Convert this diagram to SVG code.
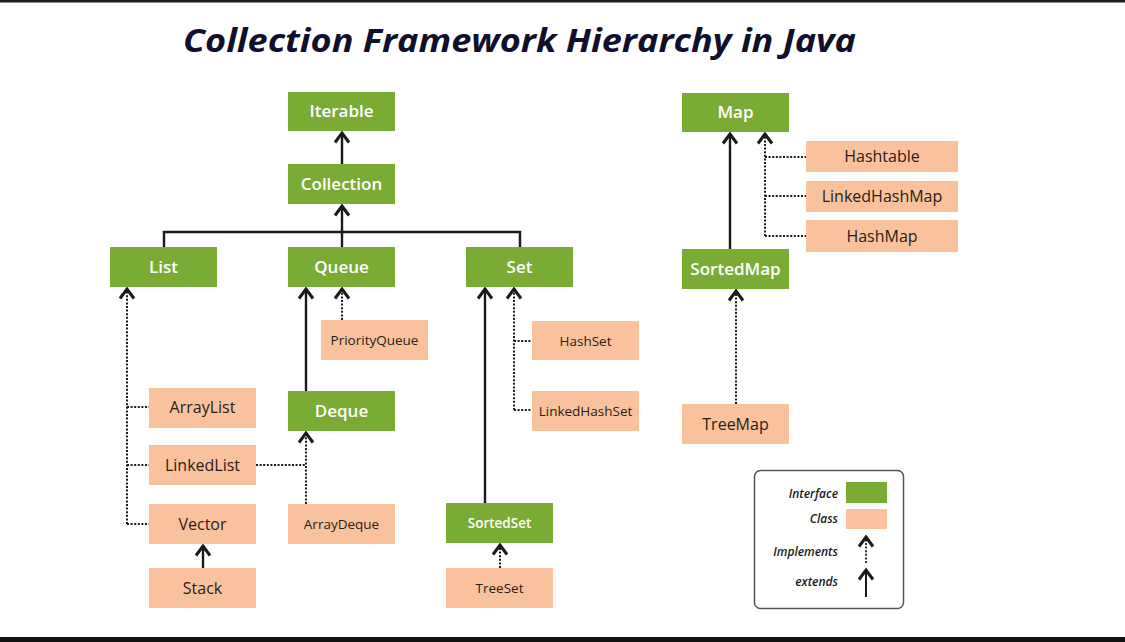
<svg xmlns="http://www.w3.org/2000/svg" width="1125" height="642" viewBox="0 0 1125 642">
<defs>
<marker id="arr" markerUnits="userSpaceOnUse" markerWidth="22" markerHeight="22" viewBox="-11 -11 22 22" refX="0" refY="0" orient="auto">
<path d="M-9.5,-7 L0,0 L-9.5,7" fill="none" stroke="#1a1a1a" stroke-width="3" stroke-linejoin="miter"/>
</marker>
</defs>
<style>
.i{fill:#7aab35}
.c{fill:#f9c29d}
.ti{font-family:"Open Sans","Liberation Sans",sans-serif;font-weight:600;font-size:17px;fill:#ffffff;text-anchor:middle}
.tc{font-family:"Open Sans","Liberation Sans",sans-serif;font-weight:500;font-size:16px;fill:#2a1c16;text-anchor:middle}
.sm{font-size:13.5px}
.s{stroke:#1a1a1a;stroke-width:2.4;fill:none}
.d{stroke:#1a1a1a;stroke-width:2;fill:none;stroke-dasharray:2 1.6}
.lg{font-family:"Open Sans","Liberation Sans",sans-serif;font-style:italic;font-weight:600;font-size:12px;fill:#1a1a1a;text-anchor:end}
</style>
<rect width="1125" height="642" fill="#ffffff"/>
<rect x="0" y="0" width="1125" height="2.5" fill="#1a1a1a"/>
<rect x="0" y="637" width="1125" height="5" fill="#111111"/>
<text x="183" y="52" font-family="'Open Sans','Liberation Sans',sans-serif" font-weight="700" font-style="italic" font-size="33" fill="#10102c" textLength="673" lengthAdjust="spacingAndGlyphs">Collection Framework Hierarchy in Java</text>

<g id="connectors">
<path class="s" d="M342,164 V133" marker-end="url(#arr)"/>
<path class="s" d="M342,247 V206" marker-end="url(#arr)"/>
<path class="s" d="M164,247 V232 H520 V247"/>
<path class="d" d="M127,524 V289" marker-end="url(#arr)"/>
<path class="d" d="M127,407 H149 M127,465 H149 M127,524 H149"/>
<path class="s" d="M203,568 V546" marker-end="url(#arr)"/>
<path class="s" d="M306,391 V289" marker-end="url(#arr)"/>
<path class="d" d="M342,320 V289" marker-end="url(#arr)"/>
<path class="d" d="M306,504 V433" marker-end="url(#arr)"/>
<path class="d" d="M256,465 H306"/>
<path class="s" d="M485,503 V289" marker-end="url(#arr)"/>
<path class="d" d="M514,410 V289" marker-end="url(#arr)"/>
<path class="d" d="M514,341 H532 M514,410 H532"/>
<path class="d" d="M500,568 V545" marker-end="url(#arr)"/>
<path class="s" d="M730,249 V134" marker-end="url(#arr)"/>
<path class="d" d="M765,236 V134" marker-end="url(#arr)"/>
<path class="d" d="M765,157 H806 M765,196 H806 M765,236 H806"/>
<path class="d" d="M736,404 V291" marker-end="url(#arr)"/>
</g>

<g id="Iterable"><rect class="i" x="288" y="92" width="107" height="39"/><text class="ti" x="341.5" y="117">Iterable</text></g>
<g id="Collection"><rect class="i" x="288" y="164" width="107" height="40"/><text class="ti" x="341.5" y="190">Collection</text></g>
<g id="List"><rect class="i" x="110" y="247" width="107" height="40"/><text class="ti" x="163.5" y="273">List</text></g>
<g id="Queue"><rect class="i" x="288" y="247" width="107" height="40"/><text class="ti" x="341.5" y="273">Queue</text></g>
<g id="Set"><rect class="i" x="466" y="247" width="107" height="40"/><text class="ti" x="519.5" y="273">Set</text></g>
<g id="PriorityQueue"><rect class="c" x="321" y="320" width="107" height="40"/><text class="tc sm" x="374.5" y="345">PriorityQueue</text></g>
<g id="Deque"><rect class="i" x="288" y="391" width="107" height="40"/><text class="ti" x="341.5" y="417">Deque</text></g>
<g id="ArrayList"><rect class="c" x="149" y="388" width="107" height="40"/><text class="tc" x="202.5" y="413">ArrayList</text></g>
<g id="LinkedList"><rect class="c" x="149" y="445" width="107" height="40"/><text class="tc" x="202.5" y="471">LinkedList</text></g>
<g id="Vector"><rect class="c" x="149" y="504" width="107" height="40"/><text class="tc" x="202.5" y="530">Vector</text></g>
<g id="Stack"><rect class="c" x="149" y="568" width="107" height="40"/><text class="tc" x="202.5" y="594">Stack</text></g>
<g id="ArrayDeque"><rect class="c" x="288" y="504" width="107" height="40"/><text class="tc sm" x="341.5" y="529">ArrayDeque</text></g>
<g id="HashSet"><rect class="c" x="532" y="321" width="107" height="39"/><text class="tc sm" x="585.5" y="346">HashSet</text></g>
<g id="LinkedHashSet"><rect class="c" x="532" y="391" width="107" height="40"/><text class="tc sm" x="585.5" y="416">LinkedHashSet</text></g>
<g id="SortedSet"><rect class="i" x="446" y="503" width="107" height="40"/><text class="ti sm" x="499.5" y="528" font-weight="500">SortedSet</text></g>
<g id="TreeSet"><rect class="c" x="446" y="568" width="107" height="40"/><text class="tc sm" x="499.5" y="593">TreeSet</text></g>
<g id="Map"><rect class="i" x="682" y="93" width="107" height="39"/><text class="ti" x="735.5" y="118">Map</text></g>
<g id="SortedMap"><rect class="i" x="682" y="249" width="107" height="40"/><text class="ti" x="735.5" y="275">SortedMap</text></g>
<g id="Hashtable"><rect class="c" x="806" y="141" width="152" height="31"/><text class="tc" x="882" y="162">Hashtable</text></g>
<g id="LinkedHashMap"><rect class="c" x="806" y="181" width="152" height="31"/><text class="tc" x="882" y="202">LinkedHashMap</text></g>
<g id="HashMap"><rect class="c" x="806" y="220" width="152" height="32"/><text class="tc" x="882" y="242">HashMap</text></g>
<g id="TreeMap"><rect class="c" x="682" y="404" width="107" height="40"/><text class="tc" x="735.5" y="430">TreeMap</text></g>

<g id="legend">
<rect x="754.5" y="470.5" width="149" height="138" rx="6" fill="#ffffff" stroke="#555555" stroke-width="1.5"/>
<text class="lg" x="838" y="498">Interface</text>
<rect class="i" x="846" y="482" width="41" height="21"/>
<text class="lg" x="838" y="523">Class</text>
<rect class="c" x="846" y="509" width="41" height="20"/>
<text class="lg" x="838" y="556">Implements</text>
<path class="d" d="M866,563 V537" marker-end="url(#arr)" style="stroke-width:1.8"/>
<text class="lg" x="838" y="586">extends</text>
<path class="s" d="M866,597 V570" marker-end="url(#arr)" style="stroke-width:2"/>
</g>
</svg>
